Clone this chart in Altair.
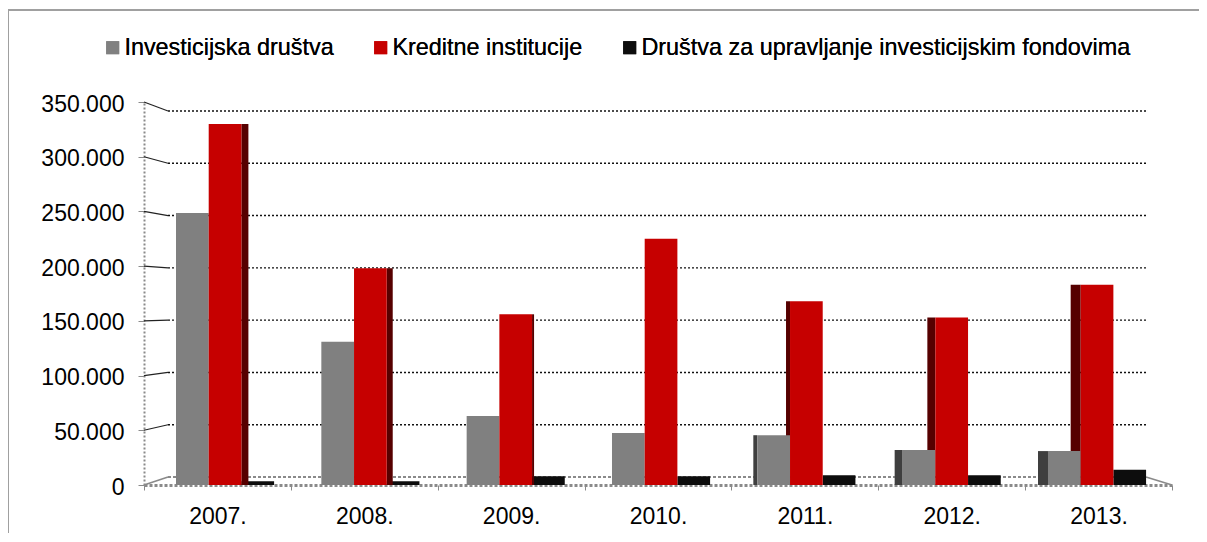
import altair as alt
import pandas as pd

years = ["2007.", "2008.", "2009.", "2010.", "2011.", "2012.", "2013."]
series = ["Investicijska društva", "Kreditne institucije", "Društva za upravljanje investicijskim fondovima"]
gray_vals = [248500, 131000, 63000, 47500, 45500, 32000, 31000]
red_vals = [330000, 198000, 156000, 225000, 168000, 153000, 183000]
black_vals = [3500, 3500, 8000, 8000, 9000, 9000, 14000]
depth = [7, 6, 2, 0, -4, -8, -10]
ticks = [0, 50000, 100000, 150000, 200000, 250000, 300000, 350000]

FRONT = {"Investicijska društva": "#808080", "Kreditne institucije": "#c60000",
         "Društva za upravljanje investicijskim fondovima": "#0d0d0d"}
SIDE = {"Investicijska društva": "#3f3f3f", "Kreditne institucije": "#560000"}
FONT = "Liberation Sans"
W, H = 1028, 383
GROUP_STEP = 145.33
GROUP_LEFT = 32
BAR = 32.7 / GROUP_STEP

rows = []
for i, y in enumerate(years):
    for j, (s, vals) in enumerate(zip(series, [gray_vals, red_vals, black_vals])):
        start = i + j * BAR
        end = start + BAR
        d = depth[i] / GROUP_STEP
        rows.append(dict(year=y, series=s, value=vals[i], zero=0, start=start, end=end,
                         side_a=(end if d > 0 else start + d), side_b=(end + d if d > 0 else start)))
df = pd.DataFrame(rows)

xq = alt.Scale(domain=[0, 7], range=[GROUP_LEFT, GROUP_LEFT + 7 * GROUP_STEP])
yq = alt.Scale(domain=[0, 350000], range=[H, 0])

grid = pd.DataFrame({"v": ticks})
grid["back"] = (8 + grid.v / 350000 * 366) / H * 350000
y_enc = alt.Y("v:Q", scale=yq, axis=None)

y_axis = alt.Axis(values=ticks, labelExpr="replace(format(datum.value, ','), ',', '.')", title=None,
                  labelFont=FONT, labelFontSize=23, labelColor="#000000", labelPadding=14, labelOffset=2,
                  tickColor="#8a8a8a", tickSize=6, domainColor="#8a8a8a", domainWidth=2,
                  domainDash=[2, 2], grid=False)

gridlines = alt.Chart(grid[grid.v > 0]).mark_rule(color="#111111", strokeDash=[2, 2], strokeWidth=1.4).encode(
    y=alt.Y("back:Q", scale=yq, axis=None), x=alt.value(24), x2=alt.value(1002))
connectors = alt.Chart(grid[grid.v > 0]).mark_rule(color="#222222", strokeWidth=1.2).encode(
    y=y_enc, y2="back:Q", x=alt.value(0), x2=alt.value(24))

floor_back = alt.Chart(grid[grid.v == 0]).mark_rule(color="#8a8a8a", strokeDash=[3, 2], strokeWidth=2).encode(
    y=alt.Y("back:Q", scale=yq, axis=None), x=alt.value(24), x2=alt.value(1002))
floor_left = alt.Chart(grid[grid.v == 0]).mark_rule(color="#8a8a8a", strokeWidth=1.5).encode(
    y=y_enc, y2="back:Q", x=alt.value(0), x2=alt.value(24))
floor_right = alt.Chart(grid[grid.v == 0]).mark_rule(color="#8a8a8a", strokeWidth=1.5).encode(
    y=y_enc, y2="back:Q", x=alt.value(1028), x2=alt.value(1002))

color = alt.Color("series:N", scale=alt.Scale(domain=series, range=[FRONT[s] for s in series]),
                  legend=alt.Legend(title=None, orient="none", direction="horizontal", columns=3,
                                    legendX=-43, legendY=-66, symbolType="square", symbolSize=169,
                                    symbolStrokeWidth=0, labelFont=FONT, labelFontSize=23.4, labelColor="#000000",
                                    labelLimit=700, columnPadding=35, labelOffset=0, gridAlign="none", padding=0))

def fronts(data):
    return alt.Chart(data).mark_bar().encode(
        x=alt.X("start:Q", scale=xq, axis=None), x2="end:Q",
        y=alt.Y("value:Q", scale=yq, axis=None), y2="zero:Q", color=color)

black_front = fronts(df[df.series == series[2]])
main_front = fronts(df[df.series != series[2]])
side_df = df[(df.series == series[1]) | ((df.series == series[0]) & (df.side_a < df.start))]
sides = alt.Chart(side_df).mark_bar().encode(
    x=alt.X("side_a:Q", scale=xq, axis=None), x2="side_b:Q",
    y=alt.Y("value:Q", scale=yq, axis=None), y2="zero:Q",
    color=alt.Color("series:N", scale=alt.Scale(domain=list(SIDE), range=list(SIDE.values())), legend=None))

axes = alt.Chart(pd.DataFrame({"year": years, "zero": [0] * 7})).mark_rule(opacity=0).encode(
    x=alt.X("year:N", sort=years, title=None,
            scale=alt.Scale(domain=years, paddingInner=0, paddingOuter=0),
            axis=alt.Axis(labelAngle=0, labelFont=FONT, labelFontSize=23, labelColor="#000000", labelPadding=15,
                          tickBand="extent", tickColor="#8a8a8a", tickSize=5, domainColor="#8a8a8a",
                          domainWidth=3, domainDash=[3, 2], grid=False)),
    y=alt.Y("zero:Q", scale=yq, axis=y_axis))

frame_top = alt.Chart(grid[grid.v == 0]).mark_rule(color="#a0a0a0", strokeWidth=2).encode(
    x=alt.value(-136), x2=alt.value(1063), y=alt.value(-92))
frame_left = alt.Chart(grid[grid.v == 0]).mark_rule(color="#a0a0a0", strokeWidth=2).encode(
    x=alt.value(-136), y=alt.value(-92), y2=alt.value(440))

chart = alt.layer(
    gridlines, frame_top, frame_left, connectors, floor_back, floor_left, floor_right,
    axes, black_front, sides, main_front
).resolve_scale(x="independent", color="independent").resolve_axis(y="independent").properties(
    width=W, height=H, autosize=alt.AutoSizeParams(type="none"),
    padding={"left": 136, "top": 94, "right": 27, "bottom": 48}
).configure_view(stroke=None)

chart.save("out.html", embed_options={"renderer": "svg", "actions": False})
